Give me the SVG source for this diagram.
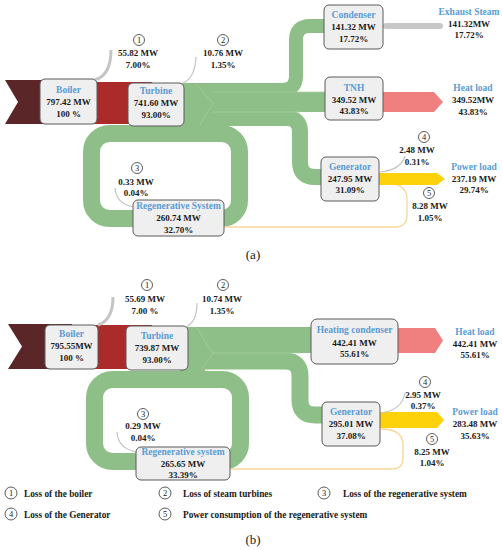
<svg xmlns="http://www.w3.org/2000/svg" width="502" height="550" viewBox="0 0 502 550">
<style>
text{font-family:"Liberation Serif","Times New Roman",serif;font-weight:bold;font-size:9px;fill:#1a1a1a;text-anchor:middle}
.nm{fill:#5b9bd5;font-size:9.5px}
.box{fill:#efefef;stroke:#5a5a5a;stroke-width:1}
.grn{fill:none;stroke:#8fbf88}
.grnf{fill:#8fbf88}
.hl{fill:none;stroke:#a6cfa0;stroke-width:0.7}
.loss{fill:none;stroke:#c4c4c4;stroke-width:1.2}
.lossT{fill:none;stroke:#c4c4c4;stroke-width:3}
.org{fill:none;stroke:#f9d69a;stroke-width:1.3}
.dark{fill:#5a2628}
.red{fill:#ab2a2a}
.heat{fill:#f07f7f}
.pow{fill:#fdd20a}
.num{fill:#fff;stroke:#333;stroke-width:0.8}
.nt{font-weight:normal;font-size:8.5px}
.lg{text-anchor:start;font-size:9.3px}
.cap{font-weight:normal;font-size:13px}
</style>

<g id="connectors">
  <!-- (a) -->
  <polygon class="dark" points="5,80 62,80 62,124 5,124 18,102"/>
  <rect class="red" x="62" y="82" width="90" height="42"/>
  <rect class="grnf" x="175" y="83" width="30" height="44"/>
  <path class="grn" stroke-width="14" d="M180,90 L282,90 Q296,90 296,76 L296,40 Q296,26 310,26 L326,26"/>
  <rect class="grnf" x="180" y="92" width="146" height="20"/>
  <path class="grn" stroke-width="16" d="M180,118 L286,118 Q300,118 300,132 L300,162 Q300,177 315,177 L324,177"/>
  <rect class="grn" stroke-width="17" x="91.5" y="133.5" width="148" height="85" rx="18"/>
  <polyline class="hl" points="196,84 213,103 200,125"/>
  <line class="hl" x1="213" y1="92" x2="325" y2="92"/>
  <line class="hl" x1="213" y1="112" x2="300" y2="112"/>
  <rect x="383" y="23" width="60" height="6" rx="3" fill="#c8c8c8"/>
  <polygon class="heat" points="383,92 434,92 443,102 434,112 383,112"/>
  <path class="org" d="M380,182 Q407,182 407,199 L407,215 Q407,227 395,227 L224,227"/>
  <polygon class="pow" points="379,173 437,173 445,179 437,185 379,185"/>
  <path class="lossT" d="M95,80 Q111,75 111,50"/>
  <path class="loss" d="M183,83 Q195,78 196,57"/>
  <path class="loss" d="M115,188 Q116,204 134,207"/>
  <path class="loss" d="M380,172 Q401,170 405,156"/>

  <!-- (b) -->
  <polygon class="dark" points="8,324 72,324 72,369 8,369 22,346.5"/>
  <rect class="red" x="72" y="325" width="80" height="44"/>
  <rect class="grnf" x="180" y="327" width="25" height="44"/>
  <rect class="grnf" x="180" y="327" width="133" height="26"/>
  <path class="grn" stroke-width="17" d="M180,361 L285,361 Q300,361 300,376 L300,400 Q300,415 315,415 L324,415"/>
  <rect class="grn" stroke-width="17" x="94.5" y="379.5" width="146" height="82" rx="18"/>
  <polyline class="hl" points="197,328 213,354 201,370"/>
  <line class="hl" x1="213" y1="353" x2="300" y2="353"/>
  <polygon class="heat" points="398,328 435,328 443,340.5 435,353 398,353"/>
  <path class="org" d="M381,429 Q403,429 403,445 L403,458 Q403,469 392,469 L230,469"/>
  <polygon class="pow" points="380,412 437,412 444,420 437,428 380,428"/>
  <path class="lossT" d="M98,325 Q113,320 113,297"/>
  <path class="loss" d="M186,327 Q197,322 197,303"/>
  <path class="loss" d="M117,432 Q118,449 137,452"/>
  <path class="loss" d="M381,413 Q402,410 405,393"/>
</g>

<!-- ===== (a) nodes ===== -->
<g id="a-boiler">
  <rect class="box" x="40" y="79" width="57" height="45" rx="5"/>
  <text class="nm" x="68.5" y="93">Boiler</text>
  <text x="68.5" y="105">797.42 MW</text>
  <text x="68.5" y="116.5">100 %</text>
</g>
<g id="a-turbine">
  <rect class="box" x="128" y="83" width="56" height="43" rx="5"/>
  <text class="nm" x="156" y="94">Turbine</text>
  <text x="156" y="106">741.60 MW</text>
  <text x="156" y="118">93.00%</text>
</g>
<g id="a-condenser">
  <rect class="box" x="324" y="5" width="59" height="44" rx="5"/>
  <text class="nm" x="353.5" y="18">Condenser</text>
  <text x="353.5" y="30">141.32 MW</text>
  <text x="353.5" y="41.5">17.72%</text>
</g>
<g id="a-exhaust">
  <text class="nm" x="469" y="15">Exhaust Steam</text>
  <text x="469" y="27">141.32MW</text>
  <text x="469" y="38">17.72%</text>
</g>
<g id="a-tnh">
  <rect class="box" x="325" y="77" width="58" height="43" rx="5"/>
  <text class="nm" x="354" y="91">TNH</text>
  <text x="354" y="102.5">349.52 MW</text>
  <text x="354" y="113.5">43.83%</text>
</g>
<g id="a-heat">
  <text class="nm" x="473" y="91">Heat load</text>
  <text x="473" y="103">349.52MW</text>
  <text x="473" y="114.5">43.83%</text>
</g>
<g id="a-generator">
  <rect class="box" x="321" y="157" width="58" height="44" rx="5"/>
  <text class="nm" x="350" y="170">Generator</text>
  <text x="350" y="181.5">247.95 MW</text>
  <text x="350" y="193">31.09%</text>
</g>
<g id="a-power">
  <text class="nm" x="474" y="170">Power load</text>
  <text x="474" y="181.5">237.19 MW</text>
  <text x="474" y="193">29.74%</text>
</g>
<g id="a-regen">
  <rect class="box" x="133" y="200" width="91" height="36" rx="5"/>
  <text class="nm" x="178.5" y="209">Regenerative System</text>
  <text x="178.5" y="221">260.74 MW</text>
  <text x="178.5" y="232.5">32.70%</text>
</g>
<g id="a-loss1">
  <circle class="num" cx="139" cy="40" r="5.5"/><text class="nt" x="139" y="43">1</text>
  <text x="138" y="56">55.82 MW</text>
  <text x="138" y="67.5">7.00%</text>
</g>
<g id="a-loss2">
  <circle class="num" cx="223" cy="40" r="5.5"/><text class="nt" x="223" y="43">2</text>
  <text x="223" y="56">10.76 MW</text>
  <text x="223" y="67.5">1.35%</text>
</g>
<g id="a-loss3">
  <circle class="num" cx="137" cy="168" r="5.5"/><text class="nt" x="137" y="171">3</text>
  <text x="136" y="185">0.33 MW</text>
  <text x="136" y="195.5">0.04%</text>
</g>
<g id="a-loss4">
  <circle class="num" cx="424" cy="137" r="5.5"/><text class="nt" x="424" y="140">4</text>
  <text x="417" y="153">2.48 MW</text>
  <text x="417" y="165">0.31%</text>
</g>
<g id="a-loss5">
  <circle class="num" cx="429" cy="193" r="5.5"/><text class="nt" x="429" y="196">5</text>
  <text x="430" y="209">8.28 MW</text>
  <text x="430" y="221">1.05%</text>
</g>
<text class="cap" x="253" y="258.5">(a)</text>

<!-- ===== (b) nodes ===== -->
<g id="b-boiler">
  <rect class="box" x="45" y="325" width="53" height="44" rx="5"/>
  <text class="nm" x="71.5" y="337">Boiler</text>
  <text x="71.5" y="349">795.55MW</text>
  <text x="71.5" y="361">100 %</text>
</g>
<g id="b-turbine">
  <rect class="box" x="126" y="326" width="62" height="44" rx="5"/>
  <text class="nm" x="157" y="339">Turbine</text>
  <text x="157" y="351">739.87 MW</text>
  <text x="157" y="362.5">93.00%</text>
</g>
<g id="b-heatcond">
  <rect class="box" x="311" y="319" width="87" height="45" rx="6"/>
  <text class="nm" x="354.5" y="333">Heating condenser</text>
  <text x="354.5" y="345.5">442.41 MW</text>
  <text x="354.5" y="357">55.61%</text>
</g>
<g id="b-heat">
  <text class="nm" x="475" y="335">Heat load</text>
  <text x="475" y="346.5">442.41 MW</text>
  <text x="475" y="358">55.61%</text>
</g>
<g id="b-generator">
  <rect class="box" x="322" y="402" width="58" height="44" rx="5"/>
  <text class="nm" x="351" y="415">Generator</text>
  <text x="351" y="427">295.01 MW</text>
  <text x="351" y="438.5">37.08%</text>
</g>
<g id="b-power">
  <text class="nm" x="475" y="415">Power load</text>
  <text x="475" y="427">283.48 MW</text>
  <text x="475" y="438.5">35.63%</text>
</g>
<g id="b-regen">
  <rect class="box" x="136" y="447" width="94" height="33" rx="5"/>
  <text class="nm" x="183" y="455">Regenerative system</text>
  <text x="183" y="466.5">265.65 MW</text>
  <text x="183" y="477.5">33.39%</text>
</g>
<g id="b-loss1">
  <circle class="num" cx="147" cy="285" r="5.5"/><text class="nt" x="147" y="288">1</text>
  <text x="145" y="302">55.69 MW</text>
  <text x="145" y="314">7.00 %</text>
</g>
<g id="b-loss2">
  <circle class="num" cx="223" cy="285" r="5.5"/><text class="nt" x="223" y="288">2</text>
  <text x="222" y="302">10.74 MW</text>
  <text x="222" y="314">1.35%</text>
</g>
<g id="b-loss3">
  <circle class="num" cx="143" cy="414" r="5.5"/><text class="nt" x="143" y="417">3</text>
  <text x="143" y="429">0.29 MW</text>
  <text x="143" y="441">0.04%</text>
</g>
<g id="b-loss4">
  <circle class="num" cx="425" cy="382" r="5.5"/><text class="nt" x="425" y="385">4</text>
  <text x="423" y="398">2.95 MW</text>
  <text x="423" y="409">0.37%</text>
</g>
<g id="b-loss5">
  <circle class="num" cx="432" cy="439" r="5.5"/><text class="nt" x="432" y="442">5</text>
  <text x="432" y="455">8.25 MW</text>
  <text x="432" y="466">1.04%</text>
</g>

<!-- legend -->
<g id="legend">
  <circle class="num" cx="11" cy="493" r="6"/><text class="nt" x="11" y="496">1</text>
  <text class="lg" x="24" y="496.5">Loss of the boiler</text>
  <circle class="num" cx="165" cy="493" r="6"/><text class="nt" x="165" y="496">2</text>
  <text class="lg" x="183" y="496.5">Loss of steam turbines</text>
  <circle class="num" cx="324" cy="493" r="6"/><text class="nt" x="324" y="496">3</text>
  <text class="lg" x="343" y="496.5">Loss of the regenerative system</text>
  <circle class="num" cx="11" cy="514" r="6"/><text class="nt" x="11" y="517">4</text>
  <text class="lg" x="24" y="517.5">Loss of the Generator</text>
  <circle class="num" cx="165" cy="514" r="6"/><text class="nt" x="165" y="517">5</text>
  <text class="lg" x="183" y="517.5">Power consumption of the regenerative system</text>
</g>
<text class="cap" x="253" y="543.5">(b)</text>
</svg>
